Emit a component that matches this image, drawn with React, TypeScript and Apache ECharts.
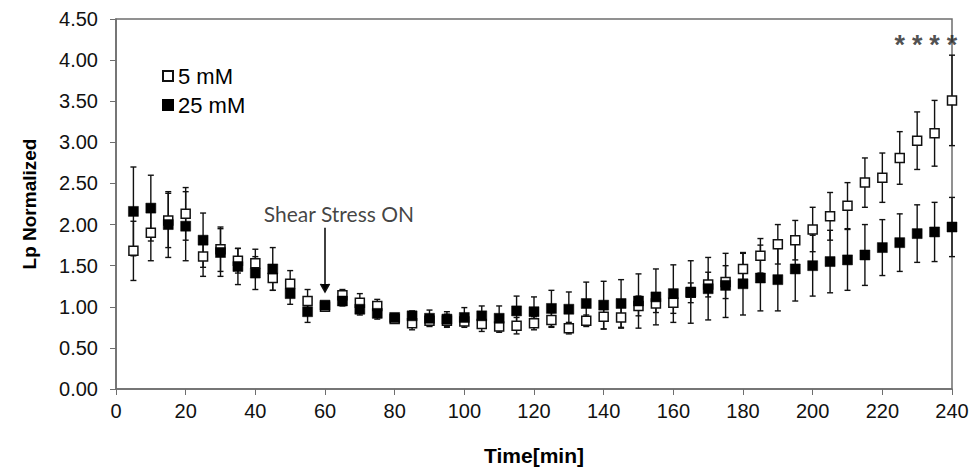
import React, { useEffect, useRef } from "react";
import * as echarts from "echarts";

const times = [5, 10, 15, 20, 25, 30, 35, 40, 45, 50, 55, 60, 65, 70, 75, 80, 85, 90, 95, 100, 105, 110, 115, 120, 125, 130, 135, 140, 145, 150, 155, 160, 165, 170, 175, 180, 185, 190, 195, 200, 205, 210, 215, 220, 225, 230, 235, 240];

const mean5 = [1.68, 1.9, 2.05, 2.13, 1.61, 1.7, 1.56, 1.53, 1.35, 1.28, 1.07, 1.0, 1.14, 1.05, 1.01, 0.85, 0.8, 0.83, 0.83, 0.82, 0.79, 0.76, 0.77, 0.8, 0.84, 0.74, 0.83, 0.88, 0.87, 1.01, 1.04, 1.05, 1.17, 1.27, 1.3, 1.46, 1.62, 1.76, 1.81, 1.94, 2.1, 2.23, 2.51, 2.57, 2.81, 3.02, 3.11, 3.51];
const err5 = [0.36, 0.34, 0.33, 0.32, 0.24, 0.27, 0.15, 0.17, 0.15, 0.16, 0.14, 0.03, 0.07, 0.11, 0.08, 0.04, 0.08, 0.06, 0.08, 0.05, 0.09, 0.07, 0.1, 0.08, 0.09, 0.07, 0.07, 0.15, 0.13, 0.12, 0.11, 0.13, 0.12, 0.15, 0.2, 0.19, 0.21, 0.24, 0.24, 0.27, 0.29, 0.28, 0.3, 0.3, 0.32, 0.35, 0.4, 0.55];

const mean25 = [2.16, 2.2, 2.0, 1.98, 1.81, 1.66, 1.49, 1.41, 1.46, 1.16, 0.94, 1.02, 1.07, 0.97, 0.92, 0.87, 0.89, 0.86, 0.85, 0.87, 0.89, 0.86, 0.95, 0.94, 0.98, 0.97, 1.04, 1.02, 1.04, 1.07, 1.12, 1.16, 1.18, 1.22, 1.26, 1.28, 1.35, 1.33, 1.46, 1.5, 1.55, 1.57, 1.63, 1.72, 1.78, 1.89, 1.91, 1.97];
const err25 = [0.54, 0.4, 0.4, 0.42, 0.33, 0.29, 0.22, 0.2, 0.26, 0.13, 0.13, 0.03, 0.06, 0.07, 0.07, 0.04, 0.06, 0.1, 0.09, 0.12, 0.12, 0.15, 0.18, 0.18, 0.22, 0.21, 0.26, 0.29, 0.29, 0.33, 0.34, 0.35, 0.38, 0.38, 0.39, 0.38, 0.4, 0.38, 0.39, 0.37, 0.38, 0.37, 0.37, 0.34, 0.35, 0.35, 0.36, 0.36];

const starTimes = [225, 230, 235, 240];
const starLevel = 4.25;

const xTicks = { min: 0, max: 240, interval: 20 };
const yTicks = { min: 0, max: 4.5, interval: 0.5 };

const seriesNames = ["5 mM", "25 mM"];
const shearLabel = "Shear Stress ON";
const shearTime = 60;
const arrowFrom = 1.96;
const arrowTo = 1.18;
const labelPoint = [64, 2.13];

const AXIS_FONT = "'Liberation Sans', Arial, sans-serif";

function errorRender(params: any, api: any) {
  const x = api.value(0);
  const y = api.value(1);
  const e = api.value(2);
  const top = api.coord([x, y + e]);
  const bot = api.coord([x, y - e]);
  const cap = 3;
  const style = { stroke: "#111", lineWidth: 1.4 };
  return {
    type: "group",
    children: [
      { type: "line", shape: { x1: top[0], y1: top[1], x2: bot[0], y2: bot[1] }, style },
      { type: "line", shape: { x1: top[0] - cap, y1: top[1], x2: top[0] + cap, y2: top[1] }, style },
      { type: "line", shape: { x1: bot[0] - cap, y1: bot[1], x2: bot[0] + cap, y2: bot[1] }, style },
    ],
  };
}

function arrowRender(params: any, api: any) {
  const x = api.value(0);
  const a = api.coord([x, api.value(1)]);
  const b = api.coord([x, api.value(2)]);
  const style = { stroke: "#111", lineWidth: 1.6 };
  return {
    type: "group",
    children: [
      { type: "line", shape: { x1: a[0], y1: a[1], x2: b[0], y2: b[1] }, style },
      { type: "polyline", shape: { points: [[b[0] - 4.5, b[1] - 8], [b[0], b[1]], [b[0] + 4.5, b[1] - 8]] }, style },
    ],
  };
}

export default function App() {
  const ref = useRef<HTMLDivElement>(null);
  useEffect(() => {
    document.body.style.margin = "0";
    if (!ref.current) return;
    const chart = echarts.init(ref.current, null, { renderer: "svg" });
    const d5 = times.map((t, i) => [t, mean5[i], err5[i]]);
    const d25 = times.map((t, i) => [t, mean25[i], err25[i]]);
    chart.setOption({
      animation: false,
      grid: {
        left: 116,
        right: 20,
        top: 19,
        bottom: 82,
        show: true,
        borderColor: "#6e6e6e",
        borderWidth: 1.5,
        backgroundColor: "#fff",
      },
      legend: {
        orient: "vertical",
        left: 157,
        top: 60,
        itemWidth: 10,
        itemHeight: 10,
        itemGap: 7,
        data: seriesNames,
        textStyle: { fontSize: 22, color: "#000", fontFamily: AXIS_FONT },
      },
      xAxis: {
        type: "value",
        min: xTicks.min,
        max: xTicks.max,
        interval: xTicks.interval,
        name: "Time[min]",
        nameLocation: "middle",
        nameGap: 56,
        nameTextStyle: { fontSize: 21, fontWeight: "bold", color: "#000", fontFamily: AXIS_FONT },
        axisLine: { show: true, lineStyle: { color: "#6e6e6e", width: 1.5 } },
        axisTick: { show: true, length: 6, lineStyle: { color: "#6e6e6e" } },
        axisLabel: { fontSize: 20, color: "#111", margin: 12, fontFamily: AXIS_FONT },
        splitLine: { show: false },
      },
      yAxis: {
        type: "value",
        min: yTicks.min,
        max: yTicks.max,
        interval: yTicks.interval,
        name: "Lp Normalized",
        nameLocation: "middle",
        nameGap: 77,
        nameRotate: 90,
        nameTextStyle: { fontSize: 19, fontWeight: "bold", color: "#000", fontFamily: AXIS_FONT },
        axisLine: { show: true, lineStyle: { color: "#6e6e6e", width: 1.5 } },
        axisTick: { show: true, length: 6, lineStyle: { color: "#6e6e6e" } },
        axisLabel: {
          fontSize: 20,
          color: "#111",
          margin: 18,
          fontFamily: AXIS_FONT,
          formatter: (v: number) => v.toFixed(2),
        },
        splitLine: { show: false },
      },
      series: [
        {
          type: "custom",
          name: "err5",
          renderItem: errorRender,
          encode: { x: 0, y: 1 },
          data: d5,
          z: 2,
          silent: true,
        },
        {
          type: "custom",
          name: "err25",
          renderItem: errorRender,
          encode: { x: 0, y: 1 },
          data: d25,
          z: 2,
          silent: true,
        },
        {
          type: "scatter",
          name: seriesNames[0],
          data: d5.map((d) => [d[0], d[1]]),
          symbol: "rect",
          symbolSize: 9,
          itemStyle: { color: "#fff", borderColor: "#111", borderWidth: 1.5, opacity: 1 },
          z: 3,
        },
        {
          type: "scatter",
          name: seriesNames[1],
          data: d25.map((d) => [d[0], d[1]]),
          symbol: "rect",
          symbolSize: 10,
          itemStyle: { color: "#000", borderColor: "#000", borderWidth: 0.5, opacity: 1 },
          z: 4,
        },
        {
          type: "scatter",
          name: "stars",
          data: starTimes.map((t) => [t, starLevel]),
          symbolSize: 0,
          silent: true,
          label: {
            show: true,
            position: "inside",
            formatter: "*",
            fontSize: 27,
            fontWeight: "bold",
            color: "#222",
            fontFamily: AXIS_FONT,
            offset: [0, 5],
          },
          z: 5,
        },
        {
          type: "scatter",
          name: "shear",
          data: [labelPoint],
          symbolSize: 0,
          silent: true,
          label: {
            show: true,
            position: "inside",
            formatter: shearLabel,
            fontSize: 21,
            color: "#111",
            fontFamily: "Lato, 'Open Sans', sans-serif",
          },
          z: 5,
        },
        {
          type: "custom",
          name: "arrow",
          renderItem: arrowRender,
          encode: { x: 0, y: [1, 2] },
          data: [[shearTime, arrowFrom, arrowTo]],
          silent: true,
          z: 5,
        },
      ],
    });
    return () => chart.dispose();
  }, []);
  return <div ref={ref} style={{ width: 972, height: 471, background: "#fff" }} />;
}
